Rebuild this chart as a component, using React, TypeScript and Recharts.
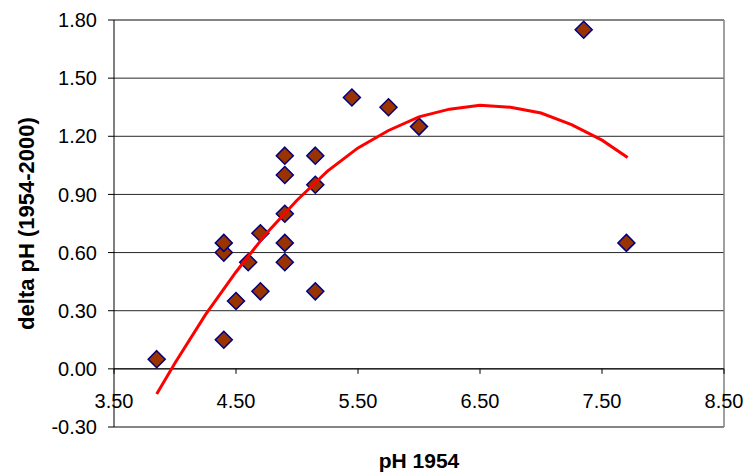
import React from 'react';
import { ScatterChart, Scatter, XAxis, YAxis, CartesianGrid, ReferenceLine } from 'recharts';

// measured points
const PH_1954 = [3.85, 4.4, 4.4, 4.4, 4.5, 4.6, 4.7, 4.7, 4.9, 4.9, 4.9, 4.9, 4.9, 5.15, 5.15, 5.15, 5.45, 5.75, 6.0, 7.35, 7.7];
const DELTA_PH = [0.05, 0.15, 0.6, 0.65, 0.35, 0.55, 0.4, 0.7, 0.55, 0.65, 0.8, 1.0, 1.1, 0.4, 0.95, 1.1, 1.4, 1.35, 1.25, 1.75, 0.65];

// trend curve
const TREND_X = [3.85, 4.0, 4.25, 4.5, 4.75, 5.0, 5.25, 5.5, 5.75, 6.0, 6.25, 6.5, 6.75, 7.0, 7.25, 7.5, 7.71];
const TREND_Y = [-0.13, 0.03, 0.28, 0.5, 0.7, 0.87, 1.02, 1.14, 1.23, 1.3, 1.34, 1.36, 1.35, 1.32, 1.26, 1.18, 1.09];

const X_TICKS = [3.5, 4.5, 5.5, 6.5, 7.5, 8.5];
const Y_TICKS = [-0.3, 0, 0.3, 0.6, 0.9, 1.2, 1.5, 1.8];

const points = PH_1954.map((x, i) => ({ x, y: DELTA_PH[i] }));
const trend = TREND_X.map((x, i) => ({ x, y: TREND_Y[i] }));

const W = 748;
const H = 475;
const MARGIN = { top: 20, right: 24, bottom: 18, left: 0 };
const X_AXIS_H = 30;
const PLOT_H = H - MARGIN.top - MARGIN.bottom - X_AXIS_H;
const Y_MIN = -0.3;
const Y_MAX = 1.8;
const ZERO_OFFSET = (PLOT_H * (0 - Y_MIN)) / (Y_MAX - Y_MIN);

const FONT = '"Liberation Sans", Arial, sans-serif';

const Diamond = (props: any) => {
  const { cx, cy } = props;
  const r = 8.5;
  return (
    <polygon
      points={`${cx},${cy - r} ${cx + r},${cy} ${cx},${cy + r} ${cx - r},${cy}`}
      fill="#993300"
      stroke="#000080"
      strokeWidth={1.5}
    />
  );
};

const NoShape = () => <g />;

// x axis sits on the zero line, not at the bottom of the plot
const XTick = (props: any) => {
  const { x, y, payload } = props;
  const zeroY = y - ZERO_OFFSET;
  return (
    <g>
      <line x1={x} x2={x} y1={zeroY} y2={zeroY + 5} stroke="#000" />
      <text x={x} y={zeroY + 39} textAnchor="middle" fontSize={20} fill="#000" fontFamily={FONT}>
        {payload.value.toFixed(2)}
      </text>
    </g>
  );
};

export default function App() {
  return (
    <div style={{ position: 'absolute', left: 0, top: 0, background: '#fff' }}>
      <ScatterChart width={W} height={H} margin={MARGIN}>
        <CartesianGrid vertical={false} stroke="#000" strokeOpacity={0.85} />
        <XAxis
          type="number"
          dataKey="x"
          domain={[3.5, 8.5]}
          ticks={X_TICKS}
          height={X_AXIS_H}
          axisLine={false}
          tickLine={false}
          tickSize={0}
          tickMargin={0}
          tick={<XTick />}
          interval={0}
          label={{ value: 'pH 1954', position: 'bottom', offset: -4, fill: '#000', fontSize: 21, fontWeight: 'bold', fontFamily: FONT }}
        />
        <YAxis
          type="number"
          dataKey="y"
          domain={[Y_MIN, Y_MAX]}
          ticks={Y_TICKS}
          width={114}
          interval={0}
          allowDataOverflow
          stroke="#000"
          tickSize={6}
          tickMargin={11}
          tickFormatter={(v: number) => v.toFixed(2)}
          tick={{ fill: '#000', fontSize: 20, fontFamily: FONT }}
          label={{
            value: 'delta pH (1954-2000)',
            angle: -90,
            position: 'insideLeft',
            offset: 26,
            fill: '#000',
            fontSize: 22,
            fontWeight: 'bold',
            fontFamily: FONT,
            style: { textAnchor: 'middle' },
          }}
        />
        <ReferenceLine y={1.8} stroke="#808080" strokeWidth={1.5} />
        <ReferenceLine y={-0.3} stroke="#808080" strokeWidth={1.5} />
        <ReferenceLine x={8.5} stroke="#808080" strokeWidth={1.5} />
        <ReferenceLine y={0} stroke="#000" />
        <Scatter data={points} shape={<Diamond />} isAnimationActive={false} />
        <Scatter
          data={trend}
          shape={NoShape}
          line={{ stroke: '#ff0000', strokeWidth: 3 }}
          lineJointType="linear"
          isAnimationActive={false}
        />
      </ScatterChart>
    </div>
  );
}
